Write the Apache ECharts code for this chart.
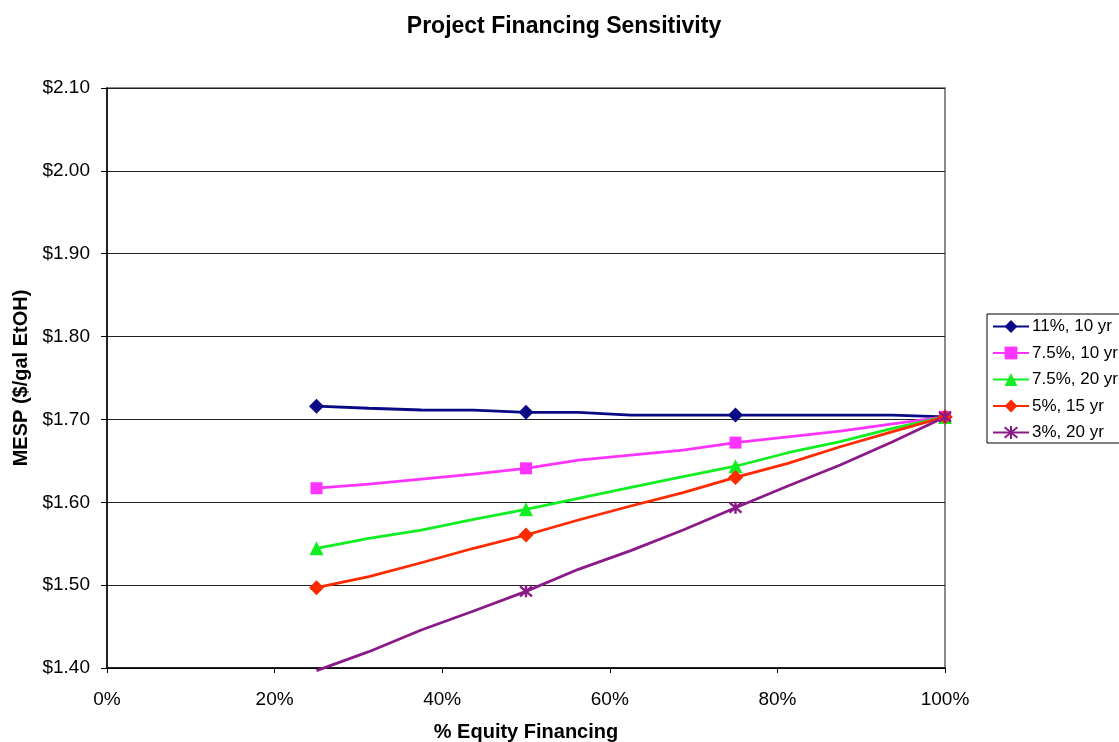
<!DOCTYPE html>
<html>
<head>
<meta charset="utf-8">
<script src="https://cdn.jsdelivr.net/npm/echarts@6/dist/echarts.min.js"></script>
<style>
  html, body { margin: 0; padding: 0; background: #fff; }
  #chart { width: 1119px; height: 742px; }
</style>
</head>
<body>
<div id="chart"></div>
<script>
// % equity financing at which each scenario was evaluated
const equityShares = [25, 31.25, 37.5, 43.75, 50, 56.25, 62.5, 68.75, 75, 81.25, 87.5, 93.75, 100];
// shares that carry a marker
const markerShares = [25, 50, 75, 100];

// MESP ($/gal EtOH) per financing scenario
const rate11yr10 = [1.716, 1.7135, 1.7114, 1.7112, 1.7086, 1.7085, 1.7053, 1.7053, 1.7052, 1.7052, 1.7052, 1.7052, 1.703];
const rate75yr10 = [1.617, 1.622, 1.628, 1.634, 1.641, 1.651, 1.657, 1.663, 1.672, 1.679, 1.686, 1.6945, 1.703];
const rate75yr20 = [1.5445, 1.5565, 1.5665, 1.5795, 1.5915, 1.6048, 1.618, 1.6311, 1.6435, 1.6598, 1.6731, 1.6893, 1.703];
const rate5yr15 = [1.497, 1.5102, 1.527, 1.5445, 1.5605, 1.5786, 1.5955, 1.6116, 1.630, 1.647, 1.667, 1.6852, 1.703];
const rate3yr20 = [1.3968, 1.4197, 1.4459, 1.4688, 1.4925, 1.5191, 1.5416, 1.5665, 1.5935, 1.6196, 1.645, 1.6731, 1.703];

const seriesNames = ['11%, 10 yr', '7.5%, 10 yr', '7.5%, 20 yr', '5%, 15 yr', '3%, 20 yr'];
const yTicks = { min: 1.4, max: 2.1, step: 0.1 };
const xTicks = { min: 0, max: 100, step: 20 };

const FONT = "'Liberation Sans', Arial, Helvetica, sans-serif";
// asterisk marker drawn as strokes
const starPath = 'path://M0,0L10,10M10,0L0,10M5,-1L5,11';

// points off the marker grid, or below the value axis, carry no marker
function points(values) {
  return equityShares.map((x, i) => {
    const y = values[i];
    const item = { value: [x, y] };
    if (markerShares.indexOf(x) < 0 || y < yTicks.min) item.symbol = 'none';
    return item;
  });
}

function makeSeries(name, values, color, symbol, size, stroked) {
  return {
    name: name,
    type: 'line',
    data: points(values),
    clip: false,
    symbol: symbol,
    symbolSize: size,
    showAllSymbol: true,
    lineStyle: { color: color, width: 2.8 },
    itemStyle: stroked
      ? { color: color, borderColor: color, borderWidth: 2.4 }
      : { color: color, borderWidth: 0 },
    emphasis: { disabled: true },
    z: 3
  };
}

const chart = echarts.init(document.getElementById('chart'), null, { renderer: 'canvas' });

chart.setOption({
  animation: false,
  backgroundColor: '#ffffff',
  title: {
    text: 'Project Financing Sensitivity',
    left: 559,
    textAlign: 'center',
    top: 10,
    textStyle: { fontFamily: FONT, fontSize: 23, fontWeight: 'bold', color: '#000' }
  },
  grid: {
    left: 107, right: 174, top: 88, bottom: 74,
    outerBoundsMode: 'none',
    containLabel: false,
    show: true,
    borderColor: '#8a8a8a',
    borderWidth: 2,
    backgroundColor: '#ffffff'
  },
  legend: {
    orient: 'vertical',
    left: 987,
    top: 314,
    padding: [4, 6, 2, 5],
    itemWidth: 36,
    itemHeight: 16,
    itemGap: 9.5,
    backgroundColor: '#ffffff',
    borderColor: '#000',
    borderWidth: 1,
    borderRadius: 0,
    selectedMode: false,
    textStyle: { fontFamily: FONT, fontSize: 17, color: '#000', lineHeight: 16, padding: [0, 0, 0, -2] },
    data: seriesNames
  },
  xAxis: {
    type: 'value',
    min: xTicks.min,
    max: xTicks.max,
    interval: xTicks.step,
    name: '% Equity Financing',
    nameLocation: 'middle',
    nameGap: 54,
    nameTextStyle: { fontFamily: FONT, fontSize: 20, fontWeight: 'bold', color: '#000' },
    axisLine: { show: true, onZero: false, lineStyle: { color: '#000', width: 1.5 } },
    axisTick: { show: true, inside: false, length: 5, lineStyle: { color: '#000' } },
    axisLabel: {
      margin: 22,
      fontFamily: FONT, fontSize: 19, color: '#000',
      formatter: '{value}%'
    },
    splitLine: { show: false }
  },
  yAxis: {
    type: 'value',
    min: yTicks.min,
    max: yTicks.max,
    interval: yTicks.step,
    name: 'MESP ($/gal EtOH)',
    nameLocation: 'middle',
    nameGap: 72,
    nameTextStyle: { fontFamily: FONT, fontSize: 20, fontWeight: 'bold', color: '#000' },
    axisLine: { show: true, lineStyle: { color: '#000', width: 1.5 } },
    axisTick: { show: true, inside: false, length: 6, lineStyle: { color: '#000' } },
    axisLabel: {
      margin: 17,
      fontFamily: FONT, fontSize: 19, color: '#000',
      formatter: function (v) { return '$' + v.toFixed(2); }
    },
    splitLine: { show: true, lineStyle: { color: '#222', width: 1 } }
  },
  series: [
    makeSeries(seriesNames[0], rate11yr10, '#0a0a86', 'diamond', 15, false),
    makeSeries(seriesNames[1], rate75yr10, '#ff33ff', 'rect', 12, false),
    makeSeries(seriesNames[2], rate75yr20, '#11ee22', 'triangle', 14, false),
    makeSeries(seriesNames[3], rate5yr15, '#ff2a00', 'diamond', 15, false),
    makeSeries(seriesNames[4], rate3yr20, '#8b1a89', starPath, 12, true)
  ]
});
</script>
</body>
</html>
